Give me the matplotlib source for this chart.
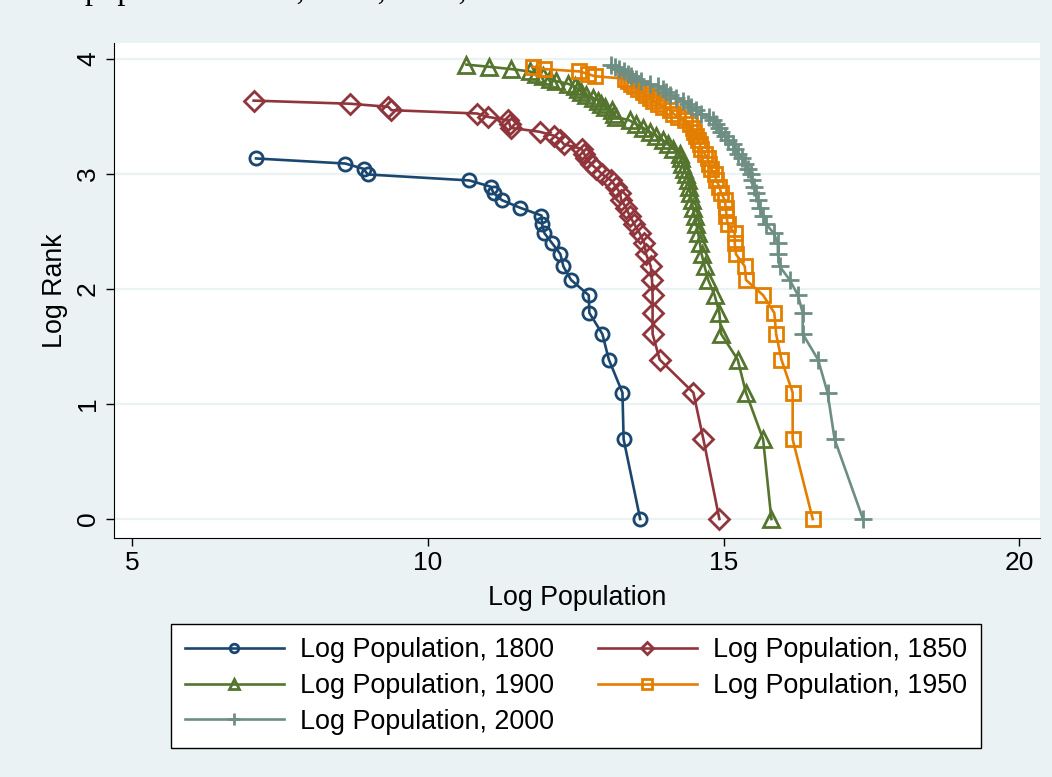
import matplotlib.pyplot as plt

# log of rank 1..52 (y values of every series, in rank order)
log_rank = [0.0, 0.693, 1.099, 1.386, 1.609, 1.792, 1.946, 2.079, 2.197, 2.303,
            2.398, 2.485, 2.565, 2.639, 2.708, 2.773, 2.833, 2.890, 2.944, 2.996,
            3.045, 3.091, 3.135, 3.178, 3.219, 3.258, 3.296, 3.332, 3.367, 3.401,
            3.434, 3.466, 3.497, 3.526, 3.555, 3.584, 3.611, 3.638, 3.664, 3.689,
            3.714, 3.738, 3.761, 3.784, 3.807, 3.829, 3.850, 3.871, 3.892, 3.912,
            3.932, 3.951]

# log population, largest first (rank 1, 2, ...)
pop_1800 = [13.59, 13.31, 13.29, 13.06, 12.95, 12.73, 12.72, 12.42, 12.29, 12.24,
            12.10, 11.97, 11.93, 11.92, 11.55, 11.25, 11.11, 11.06, 10.70, 8.98,
            8.91, 8.60, 7.09]
pop_1850 = [14.93, 14.66, 14.49, 13.92, 13.80, 13.80, 13.80, 13.79, 13.77, 13.69,
            13.66, 13.58, 13.49, 13.41, 13.35, 13.27, 13.25, 13.18, 13.10, 12.95,
            12.85, 12.75, 12.68, 12.64, 12.60, 12.30, 12.24, 12.14, 11.89, 11.40,
            11.38, 11.36, 11.01, 10.83, 9.38, 9.33, 8.68, 7.05]
pop_1900 = [15.81, 15.67, 15.38, 15.24, 14.96, 14.93, 14.85, 14.74, 14.68, 14.63,
            14.60, 14.57, 14.54, 14.51, 14.48, 14.46, 14.44, 14.42, 14.40, 14.37,
            14.33, 14.30, 14.28, 14.26, 14.15, 14.06, 13.97, 13.86, 13.75, 13.64,
            13.52, 13.41, 13.18, 13.15, 13.11, 12.99, 12.93, 12.88, 12.79, 12.68,
            12.59, 12.54, 12.48, 12.37, 12.17, 12.06, 11.94, 11.83, 11.72, 11.41,
            11.04, 10.65]
pop_1950 = [16.51, 16.17, 16.17, 15.98, 15.89, 15.86, 15.67, 15.38, 15.36, 15.21,
            15.19, 15.19, 15.07, 15.05, 15.04, 15.02, 14.96, 14.93, 14.88, 14.85,
            14.79, 14.76, 14.73, 14.68, 14.62, 14.60, 14.57, 14.54, 14.50, 14.48,
            14.43, 14.35, 14.23, 14.15, 14.09, 13.97, 13.89, 13.81, 13.75, 13.69,
            13.64, 13.55, 13.49, 13.44, 13.38, 13.33, 12.82, 12.70, 12.56, 11.97,
            11.77]
pop_2000 = [17.36, 16.88, 16.76, 16.60, 16.34, 16.34, 16.26, 16.12, 15.95, 15.92,
            15.92, 15.85, 15.72, 15.67, 15.61, 15.58, 15.55, 15.52, 15.49, 15.46,
            15.41, 15.37, 15.31, 15.25, 15.19, 15.16, 15.07, 15.02, 14.96, 14.92,
            14.87, 14.83, 14.76, 14.62, 14.54, 14.45, 14.40, 14.31, 14.20, 14.09,
            14.03, 13.97, 13.89, 13.75, 13.61, 13.52, 13.44, 13.38, 13.32, 13.24,
            13.17, 13.10]

labels = ['Log Population, 1800', 'Log Population, 1850', 'Log Population, 1900',
          'Log Population, 1950', 'Log Population, 2000']
x_ticks = [5, 10, 15, 20]
y_ticks = [0, 1, 2, 3, 4]

bg = '#eaf2f3'
plt.rcParams['font.family'] = ['Liberation Sans', 'DejaVu Sans']

fig = plt.figure(figsize=(10.52, 7.77), dpi=100, facecolor=bg)
ax = fig.add_axes([114 / 1052, 1 - 538 / 777, 926 / 1052, 495 / 777])
ax.set_facecolor('white')

styles = [
    ('#1a476f', 'o', 9.5),
    ('#90353b', 'D', 10),
    ('#55752f', '^', 11.5),
    ('#e37e00', 's', 10.5),
    ('#6e8e84', '+', 13),
]
series = [pop_1800, pop_1850, pop_1900, pop_1950, pop_2000]

handles = []
for pop, (col, mk, ms), lab in zip(series, styles, labels):
    h, = ax.plot(pop, log_rank[:len(pop)], color=col, lw=1.9, marker=mk, ms=ms,
                 mfc='none', mec=col, mew=2, label=lab)
    handles.append(h)

ax.set_xlim(4.687, 20.355)
ax.set_ylim(-0.165, 4.139)
ax.set_xticks(x_ticks)
ax.set_yticks(y_ticks)
ax.tick_params(axis='both', direction='out', length=6, width=1, labelsize=19)
ax.tick_params(axis='y', labelrotation=90, pad=4)
for t in ax.get_yticklabels():
    t.set_va('center')
ax.yaxis.grid(True, color=bg, lw=1.6)
ax.set_axisbelow(True)
for s in ['top', 'right']:
    ax.spines[s].set_visible(False)
for s in ['left', 'bottom']:
    ax.spines[s].set_color('black')

ax.set_xlabel('Log Population', fontsize=19.3, labelpad=7)
ax.set_ylabel('Log Rank', fontsize=19.3, labelpad=6)

# legend filled row by row: 1800 1850 / 1900 1950 / 2000
order = [0, 2, 4, 1, 3]
leg = fig.legend([handles[i] for i in order], [labels[i] for i in order],
                 loc='center', bbox_to_anchor=(576 / 1052, 1 - 686 / 777),
                 ncol=2, fontsize=19.4, frameon=True, fancybox=False,
                 edgecolor='black', facecolor='white', framealpha=1,
                 handlelength=3.7, handletextpad=0.6, columnspacing=1.6,
                 labelspacing=0.36, borderpad=0.5, borderaxespad=0,
                 markerscale=0.65)
leg.get_frame().set_linewidth(1)

# clipped line of document text above the chart (only descenders show)
fig.text(85 / 1052, 1 + 1 / 777, 'population 1800, 1850, 1900, 1950 and 2000',
         family='Liberation Serif', fontsize=23.3, va='baseline', ha='left')

fig.savefig('out.png', dpi=100, facecolor=bg)
